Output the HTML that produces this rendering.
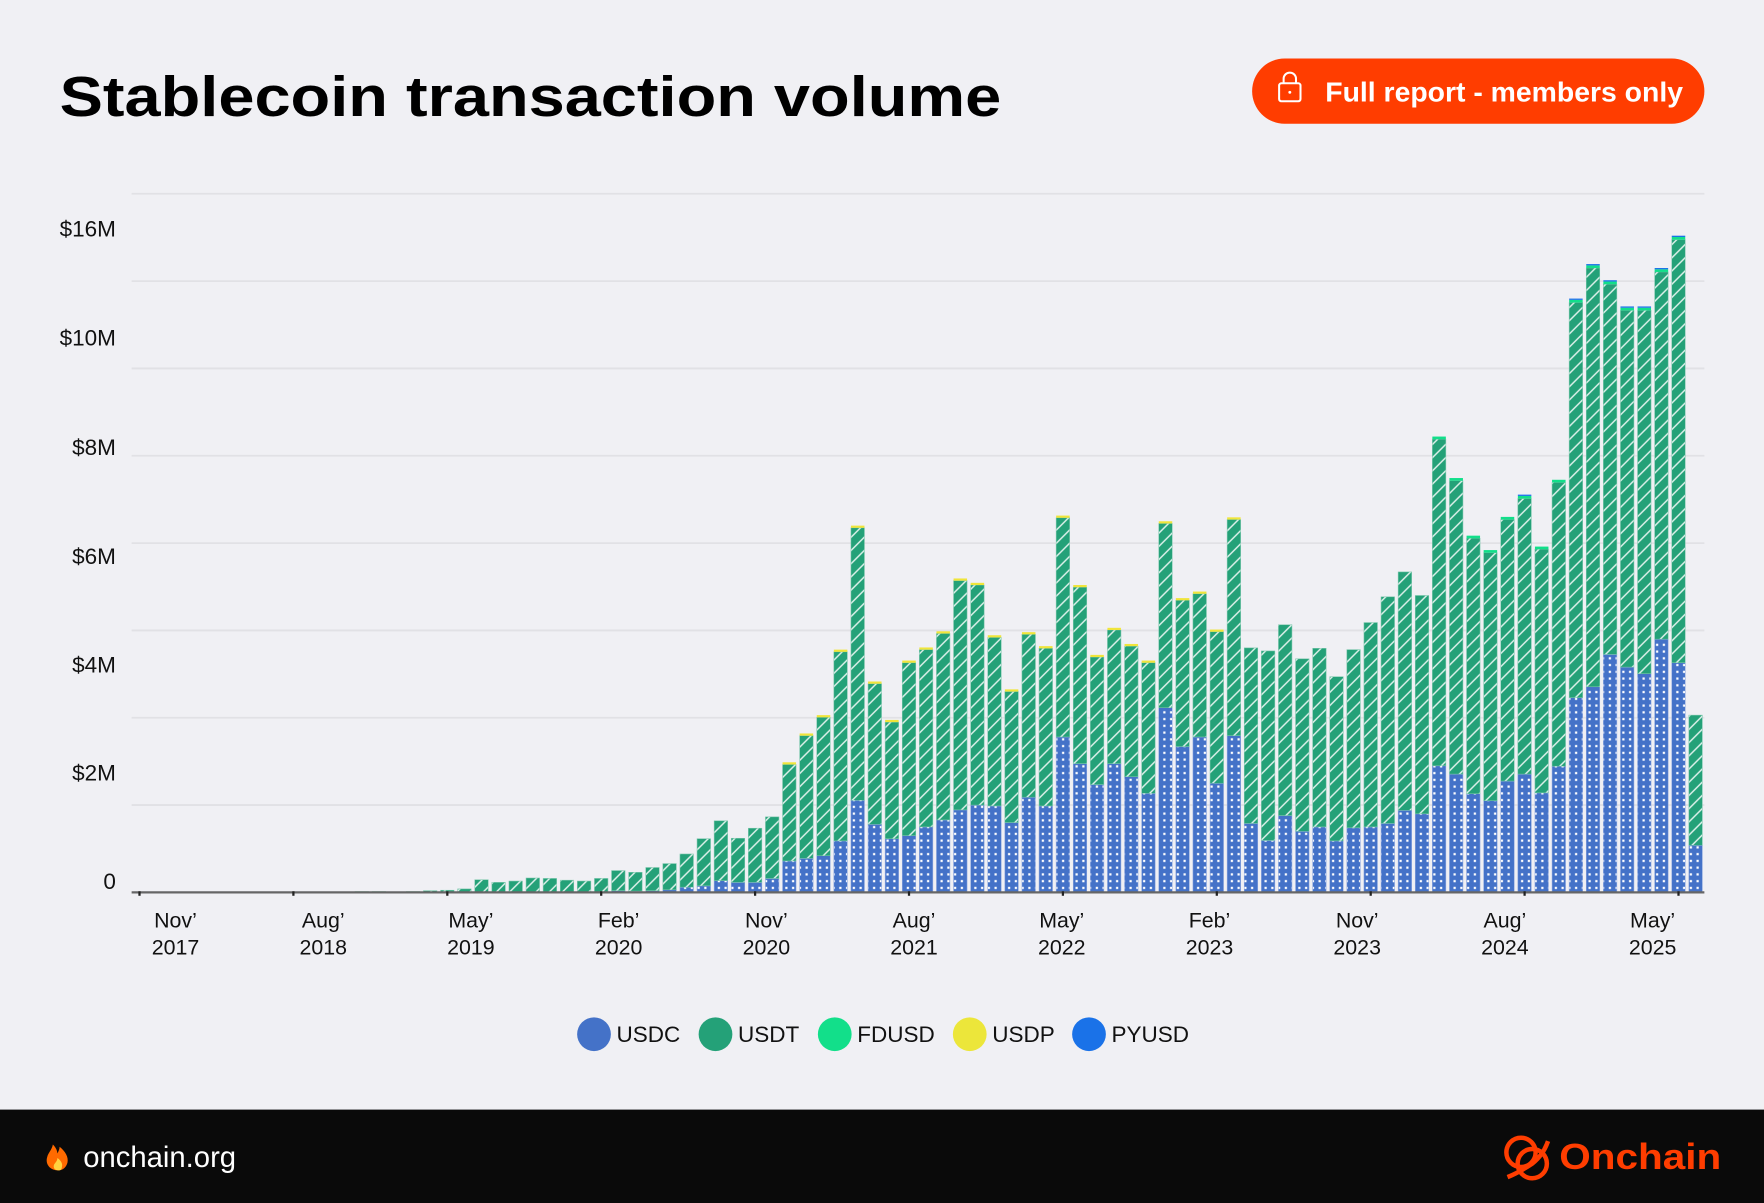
<!DOCTYPE html>
<html><head><meta charset="utf-8"><style>
html,body{margin:0;padding:0;background:#f0f0f4;}
svg{display:block;font-family:"Liberation Sans",sans-serif;}
</style></head><body>
<svg id="chart" width="1764" height="1203" viewBox="0 0 1568 1069" preserveAspectRatio="none" xmlns="http://www.w3.org/2000/svg">
<defs>
<pattern id="dots" width="6" height="6" patternUnits="userSpaceOnUse"><rect width="6" height="6" fill="#4472c8"/><rect x="2" y="2" width="2" height="2" fill="#ffffff"/></pattern>
<pattern id="stripes" width="8.3" height="8.3" patternUnits="userSpaceOnUse" patternTransform="rotate(45)"><rect width="8.3" height="8.3" fill="#24a178"/><line x1="1" y1="0" x2="1" y2="8.3" stroke="#ffffff" stroke-opacity="0.85" stroke-width="1.3"/></pattern>
</defs>
<rect width="1568" height="1069" fill="#f0f0f4"/>
<text x="53" y="103" font-size="50" font-weight="bold" fill="#000" textLength="837" lengthAdjust="spacingAndGlyphs">Stablecoin transaction volume</text>
<g>
<rect x="1113" y="52" width="402" height="58" rx="29" fill="#ff3d00"/>
<rect x="1137" y="74" width="19" height="16" rx="2" fill="none" stroke="#fff" stroke-width="1.8"/>
<path d="M1141 74 v-4 a5 5 0 0 1 11 0 v4" fill="none" stroke="#fff" stroke-width="1.8"/>
<circle cx="1146.5" cy="82" r="1.3" fill="#fff"/>
<text x="1178" y="90" font-size="25" font-weight="bold" fill="#fff" textLength="318" lengthAdjust="spacingAndGlyphs">Full report - members only</text>
</g>
<g id="grid"></g>
<g id="ylabels"></g>
<g id="bars"></g>
<line x1="117" y1="793" x2="1515" y2="793" stroke="#666" stroke-width="2"/>
<g id="xlabels"></g>
<g id="legend"></g>
<rect x="0" y="986" width="1568" height="83" fill="#0a0a0a"/>
<g>
<path d="M52 1040 c-8 0 -12 -6 -10 -12 c1 -4 4 -6 5 -11 c3 3 4 6 4 8 c1 -2 2 -4 2 -6 c5 4 8 9 7 14 c-1 4 -4 7 -8 7z" fill="#ff6a00"/>
<path d="M52 1040 c-3 0 -5 -2 -4 -5 c1 -2 3 -3 3 -6 c3 2 5 5 4 8 c0 2 -1 3 -3 3z" fill="#ffd23f"/>
<text x="74" y="1037" font-size="26" fill="#fff">onchain.org</text>
</g>
<g>
<circle cx="1352" cy="1024" r="13" fill="none" stroke="#ff3d00" stroke-width="4"/>
<circle cx="1362" cy="1034" r="13" fill="none" stroke="#ff3d00" stroke-width="4"/>
<path d="M1340 1046 q10 -4 22 -12 q10 -8 14 -20" fill="none" stroke="#ff3d00" stroke-width="4"/>
<text x="1386" y="1039" font-size="32" font-weight="bold" fill="#ff3d00" textLength="144" lengthAdjust="spacingAndGlyphs">Onchain</text>
</g>
<script>
var gridTicks = [0, 2, 4, 6, 8, 10, 12, 14, 16];
var yTickLabels = ["0", "$2M", "$4M", "$6M", "$8M", "$10M", "$16M"];
var yTickLabelPos = [0.26, 2.74, 5.22, 7.7, 10.2, 12.7, 15.2];
var xTickLabels = [["Nov’","2017"],["Aug’","2018"],["May’","2019"],["Feb’","2020"],["Nov’","2020"],["Aug’","2021"],["May’","2022"],["Feb’","2023"],["Nov’","2023"],["Aug’","2024"],["May’","2025"]];
var xTickIndex = [0, 9, 18, 27, 36, 45, 54, 63, 72, 81, 90];
var usdc = [0,0,0,0,0,0,0,0,0,0,0,0,0,0,0,0,0,0,0,0,0,0,0,0,0,0,0,0,0.04,0.03,0.04,0.06,0.12,0.15,0.27,0.23,0.23,0.32,0.72,0.78,0.84,1.18,2.11,1.56,1.23,1.30,1.50,1.66,1.89,2.00,1.98,1.60,2.18,1.98,3.56,2.95,2.47,2.95,2.65,2.27,4.23,3.34,3.56,2.50,3.59,1.58,1.19,1.76,1.40,1.50,1.18,1.48,1.50,1.58,1.88,1.80,2.90,2.71,2.26,2.10,2.55,2.71,2.28,2.89,4.46,4.71,5.45,5.16,5.01,5.80,5.26,1.08];
var usdt = [0,0,0,0,0,0,0,0,0,0,0,0,0.01,0.02,0.02,0.01,0.02,0.04,0.05,0.08,0.29,0.23,0.26,0.33,0.32,0.28,0.26,0.32,0.46,0.43,0.53,0.60,0.76,1.08,1.37,1.01,1.24,1.41,2.21,2.81,3.17,4.33,6.24,3.22,2.67,3.96,4.06,4.27,5.25,5.04,3.86,3.00,3.73,3.61,5.02,4.04,2.92,3.06,2.99,2.99,4.22,3.35,3.28,3.47,4.95,4.02,4.34,4.37,3.95,4.09,3.76,4.08,4.68,5.19,5.46,5.00,7.48,6.72,5.85,5.68,5.99,6.31,5.58,6.50,9.05,9.59,8.48,8.17,8.32,8.41,9.69,2.98];
var fdusd = [0,0,0,0,0,0,0,0,0,0,0,0,0,0,0,0,0,0,0,0,0,0,0,0,0,0,0,0,0,0,0,0,0,0,0,0,0,0,0,0,0,0,0,0,0,0,0,0,0,0,0,0,0,0,0,0,0,0,0,0,0,0,0,0,0,0,0,0,0,0,0,0,0,0,0,0,0.06,0.06,0.06,0.06,0.06,0.06,0.06,0.06,0.06,0.06,0.06,0.06,0.06,0.06,0.06,0];
var usdp = [0,0,0,0,0,0,0,0,0,0,0,0,0,0,0,0,0,0,0,0,0,0,0,0,0,0,0,0,0,0,0,0,0,0,0,0,0,0,0.05,0.05,0.05,0.05,0.05,0.05,0.05,0.05,0.05,0.05,0.05,0.05,0.05,0.05,0.05,0.05,0.05,0.05,0.05,0.05,0.05,0.05,0.05,0.05,0.05,0.05,0.05,0,0,0,0,0,0,0,0,0,0,0,0,0,0,0,0,0,0,0,0,0,0,0,0,0,0,0];
var pyusd = [0,0,0,0,0,0,0,0,0,0,0,0,0,0,0,0,0,0,0,0,0,0,0,0,0,0,0,0,0,0,0,0,0,0,0,0,0,0,0,0,0,0,0,0,0,0,0,0,0,0,0,0,0,0,0,0,0,0,0,0,0,0,0,0,0,0,0,0,0,0,0,0,0,0,0,0,0,0,0,0,0,0.03,0,0,0.03,0.03,0.03,0.03,0.03,0.03,0.03,0];
var seriesNames = ["USDC", "USDT", "FDUSD", "USDP", "PYUSD"];

var NS = "http://www.w3.org/2000/svg";
var BASE = 793, PER = 38.8, X0 = 124, STEP = 15.2, BW = 12;
function yScale(v){ return BASE - v * PER; }
function xScale(i){ return X0 + i * STEP; }
function mk(tag, attrs, parent){ var e = document.createElementNS(NS, tag); for (var k in attrs) e.setAttribute(k, attrs[k]); parent.appendChild(e); return e; }

var grid = document.getElementById("grid");
gridTicks.forEach(function(t){
  if (t === 0) return;
  var l = mk("line", {x1:117, x2:1515, y1:yScale(t), y2:yScale(t), stroke:"#e1e1e5", "stroke-width":1.6}, grid);
  
  
});
var yl = document.getElementById("ylabels");
yTickLabels.forEach(function(s, k){
  var t = mk("text", {x:103, y:yScale(yTickLabelPos[k]) + 7, "text-anchor":"end", "font-size":20, fill:"#111"}, yl);
  t.textContent = s;
  
  
});
var xl = document.getElementById("xlabels");
xTickLabels.forEach(function(pair, k){
  var cx = xScale(xTickIndex[k]) + 32 - 5.5 * k;
  var tk = mk("line", {x1:xScale(xTickIndex[k]), x2:xScale(xTickIndex[k]), y1:792, y2:796, stroke:"#222", "stroke-width":2}, xl);
  
  
  var t1 = mk("text", {x:cx, y:824, "text-anchor":"middle", "font-size":19, fill:"#111"}, xl);
  t1.textContent = pair[0];
  
  
  var t2 = mk("text", {x:cx, y:848, "text-anchor":"middle", "font-size":19, fill:"#111"}, xl);
  t2.textContent = pair[1];
  
  
});

var bars = document.getElementById("bars");
var fills = ["url(#dots)", "url(#stripes)", "#12df8a", "#f0e53a", "#1a72e8"];
var series = [usdc, usdt, fdusd, usdp, pyusd];
for (var i = 0; i < usdc.length; i++) {
  var acc = 0;
  for (var s = 0; s < series.length; s++) {
    var v = series[s][i];
    if (!v) continue;
    var y1 = yScale(acc), y2 = yScale(acc + v);
    var r = mk("rect", {x:xScale(i) - BW/2, y:y2, width:BW, height:Math.max(y1 - y2, 0.8), fill:fills[s]}, bars);
    if (s < 2) { r.setAttribute("stroke", s === 0 ? "#8fa8e0" : "#7cc8ac"); r.setAttribute("stroke-width", "0.5"); }
    
    
    acc += v;
  }
}

var lg = document.getElementById("legend");
var legendX = [528, 636, 742, 862, 968];
var legendColors = ["#4472c8", "#24a178", "#12df8a", "#ece63a", "#1a72e8"];
seriesNames.forEach(function(n, k){
  var g = mk("g", {}, lg);
  
  
  mk("circle", {cx:legendX[k], cy:919, r:15, fill:legendColors[k]}, g);
  var t = mk("text", {x:legendX[k] + 20, y:926, "font-size":20, fill:"#111"}, g);
  t.textContent = n;
});
</script>
</svg>
</body></html>
